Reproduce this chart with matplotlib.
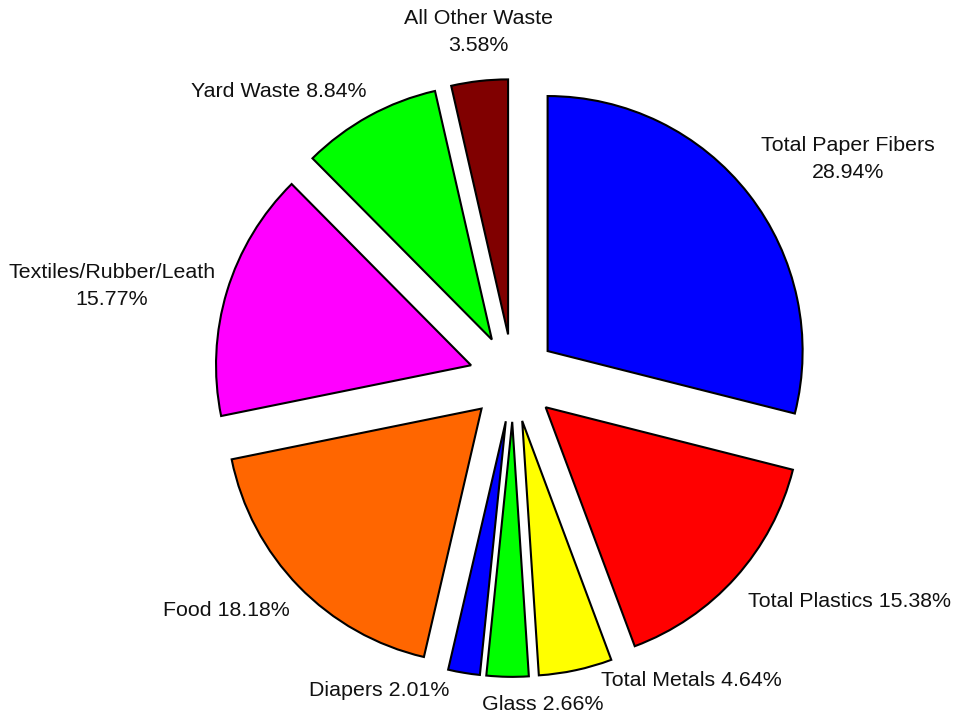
import matplotlib
matplotlib.use("Agg")
import matplotlib.pyplot as plt

# waste composition (percent)
categories = ["Total Paper Fibers", "Total Plastics", "Total Metals", "Glass",
              "Diapers", "Food", "Textiles/Rubber/Leath", "Yard Waste",
              "All Other Waste"]
values = [28.94, 15.38, 4.64, 2.66, 2.01, 18.18, 15.77, 8.84, 3.58]
colors = ["#0000FF", "#FF0000", "#FFFF00", "#00FF00", "#0000FF",
          "#FF6600", "#FF00FF", "#00FF00", "#800000"]

# label layout: (x, y, ha, two lines?) in units of pie radius
label_layout = [
    (1.314, 0.859, "center", True),
    (0.922, -0.875, "left", False),
    (0.345, -1.188, "left", False),
    (-0.122, -1.282, "left", False),
    (-0.251, -1.224, "right", False),
    (-0.875, -0.910, "right", False),
    (-1.573, 0.361, "center", True),
    (-0.573, 1.122, "right", False),
    (-0.137, 1.357, "center", True),
]

plt.rcParams['font.family'] = ['Liberation Sans', 'DejaVu Sans']

fig = plt.figure(figsize=(9.54, 7.15), dpi=100)
ax = fig.add_axes([0, 0, 1, 1])

ax.pie(values, colors=colors, startangle=90, counterclock=False,
       explode=[0.172] * len(values), radius=1.0,
       wedgeprops=dict(edgecolor="black", linewidth=1.5))

for name, v, (x, y, ha, two) in zip(categories, values, label_layout):
    sep = "\n" if two else " "
    ax.text(x, y, name + sep + "%.2f%%" % v, ha=ha, va="center",
            fontsize=15.4, color="#111111", multialignment="center",
            linespacing=1.5)

scale = 255.0
ax.set_xlim(-513 / scale, (954 - 513) / scale)
ax.set_ylim(-(715 - 378) / scale, 378 / scale)
ax.set_aspect("auto")
ax.axis("off")

fig.savefig("out.png", dpi=100)
